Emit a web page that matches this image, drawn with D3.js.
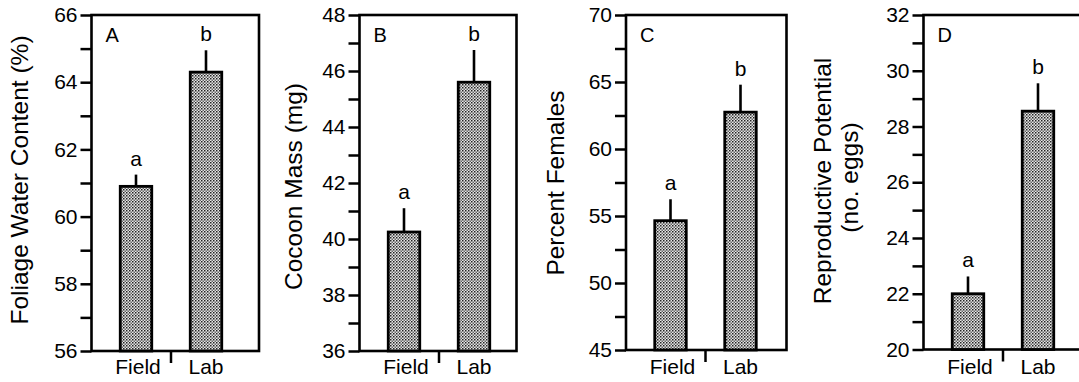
<!DOCTYPE html>
<html>
<head>
<meta charset="utf-8">
<script src="https://cdn.jsdelivr.net/npm/d3@7"></script>
<style>
  body { margin: 0; background: #fff; }
  svg { display: block; }
  text { font-family: "Liberation Sans", Arial, sans-serif; fill: #000; }
</style>
</head>
<body>
<script>
var categories = ["Field", "Lab"];
var sigLetters = ["a", "b"];
var panelLabels = ["A", "B", "C", "D"];

var waterMean = [60.9, 64.3], waterErr = [0.35, 0.65];
var massMean = [40.25, 45.6], massErr = [0.85, 1.15];
var femaleMean = [54.65, 62.75], femaleErr = [1.6, 2.05];
var eggsMean = [22.0, 28.55], eggsErr = [0.62, 1.0];

var waterTicks = [56, 58, 60, 62, 64, 66];
var massTicks = [36, 38, 40, 42, 44, 46, 48];
var femaleTicks = [45, 50, 55, 60, 65, 70];
var eggsTicks = [20, 22, 24, 26, 28, 30, 32];

var yTitles = [
  ["Foliage Water Content (%)"],
  ["Cocoon Mass (mg)"],
  ["Percent Females"],
  ["Reproductive Potential", "(no. eggs)"]
];

var width = 1079,
    height = 382;

var svg = d3.select("body").append("svg")
  .attr("width", width)
  .attr("height", height);

// stipple fill for the bars
var pat = svg.append("defs").append("pattern")
  .attr("id", "stipple")
  .attr("patternUnits", "userSpaceOnUse")
  .attr("width", 3).attr("height", 3);
pat.append("rect").attr("width", 3).attr("height", 3).attr("fill", "#e6e6e6");
pat.append("rect").attr("x", 0).attr("y", 0).attr("width", 1.5).attr("height", 1.5).attr("fill", "#222");
pat.append("rect").attr("x", 1.5).attr("y", 1.5).attr("width", 1.5).attr("height", 1.5).attr("fill", "#666");

var panels = [
  {mean: waterMean, err: waterErr, ticks: waterTicks, left: 91.5, right: 259, top: 15, bottom: 351,
   titleX: [27.5], titleY: [180]},
  {mean: massMean, err: massErr, ticks: massTicks, left: 359.5, right: 516.5, top: 15, bottom: 351,
   titleX: [301.5], titleY: [186.5]},
  {mean: femaleMean, err: femaleErr, ticks: femaleTicks, left: 626, right: 786.5, top: 15, bottom: 350,
   titleX: [564], titleY: [183]},
  {mean: eggsMean, err: eggsErr, ticks: eggsTicks, left: 923.5, right: 1095, top: 15, bottom: 349.5,
   titleX: [831, 858], titleY: [181, 177.5]}
];

panels.forEach(function(p, pi) {
  var g = svg.append("g");

  var y = d3.scaleLinear()
    .domain(d3.extent(p.ticks))
    .range([p.bottom, p.top]);

  var x = d3.scalePoint()
    .domain(categories)
    .range([p.left + 44.5, p.left + 114.5]);

  var minor = [];
  for (var i = 0; i < p.ticks.length - 1; i++) minor.push((p.ticks[i] + p.ticks[i + 1]) / 2);
  var all = p.ticks.concat(minor);

  var axis = g.append("g")
    .attr("transform", "translate(" + p.left + ",0)")
    .call(d3.axisLeft(y)
      .tickValues(all)
      .tickSize(11)
      .tickPadding(3)
      .tickFormat(function(d) { return p.ticks.indexOf(d) >= 0 ? d : ""; }));
  axis.select(".domain").remove();
  axis.selectAll(".tick line").attr("stroke", "#000").attr("stroke-width", 2.5);
  axis.selectAll(".tick text").style("font-size", "21px");

  // frame
  g.append("rect")
    .attr("x", p.left).attr("y", p.top)
    .attr("width", p.right - p.left).attr("height", p.bottom - p.top)
    .attr("fill", "none").attr("stroke", "#000").attr("stroke-width", 2.6);

  // divider tick between categories
  g.append("line")
    .attr("x1", (x(categories[0]) + x(categories[1])) / 2)
    .attr("x2", (x(categories[0]) + x(categories[1])) / 2)
    .attr("y1", p.bottom).attr("y2", p.bottom + 12)
    .attr("stroke", "#000").attr("stroke-width", 2.5);

  var bw = 31.5;

  // error bars (upper only)
  g.selectAll(".err").data(categories).enter().append("line")
    .attr("x1", function(d) { return x(d); })
    .attr("x2", function(d) { return x(d); })
    .attr("y1", function(d, i) { return y(p.mean[i]); })
    .attr("y2", function(d, i) { return y(p.mean[i] + p.err[i]); })
    .attr("stroke", "#000").attr("stroke-width", 2.6);

  g.selectAll(".bar").data(categories).enter().append("rect")
    .attr("x", function(d) { return x(d) - bw / 2; })
    .attr("y", function(d, i) { return y(p.mean[i]); })
    .attr("width", bw)
    .attr("height", function(d, i) { return p.bottom - y(p.mean[i]); })
    .attr("fill", "url(#stipple)")
    .attr("stroke", "#000").attr("stroke-width", 2.8);

  g.selectAll(".sig").data(categories).enter().append("text")
    .attr("x", function(d) { return x(d); })
    .attr("y", function(d, i) { return y(p.mean[i] + p.err[i]) - 9; })
    .attr("text-anchor", "middle")
    .style("font-size", "21px")
    .text(function(d, i) { return sigLetters[i]; });

  g.selectAll(".cat").data(categories).enter().append("text")
    .attr("x", function(d) { return x(d) + (d === "Field" ? 2 : 0); })
    .attr("y", 374)
    .attr("text-anchor", "middle")
    .style("font-size", "21px")
    .text(function(d) { return d; });

  g.append("text")
    .attr("x", p.left + 14)
    .attr("y", 42)
    .style("font-size", "20px")
    .text(panelLabels[pi]);

  yTitles[pi].forEach(function(t, ti) {
    g.append("text")
      .attr("transform", "translate(" + p.titleX[ti] + "," + p.titleY[ti] + ") rotate(-90)")
      .attr("text-anchor", "middle")
      .style("font-size", "24.5px")
      .text(t);
  });
});
</script>
</body>
</html>
